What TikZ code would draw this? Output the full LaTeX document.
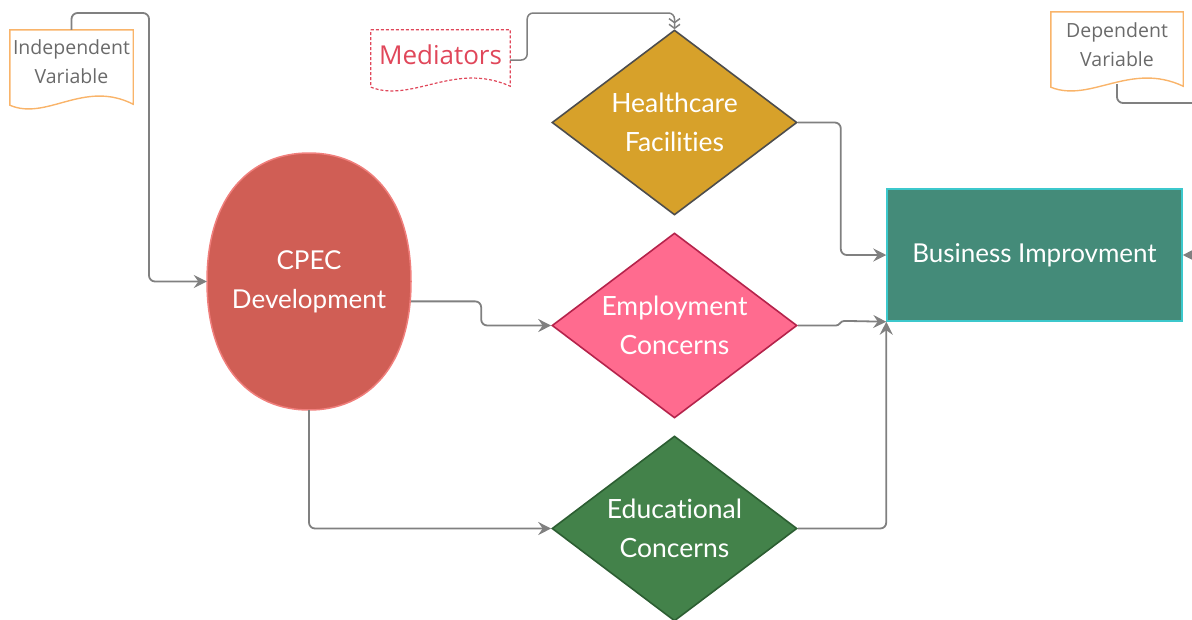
\documentclass[tikz,border=0pt]{standalone}
\usepackage{fontspec}
\setmainfont{Lato}[Ligatures=NoCommon]
\newfontfamily\notefont{Open Sans}
\usetikzlibrary{shapes.geometric,arrows.meta,calc}

\definecolor{connGray}{HTML}{808080}
\definecolor{noteOrange}{HTML}{F9B46A}
\definecolor{noteText}{HTML}{6A6A6A}
\definecolor{medRed}{HTML}{E0475A}
\definecolor{cpecFill}{HTML}{D05E55}
\definecolor{cpecLine}{HTML}{F07F7C}
\definecolor{hcFill}{HTML}{D7A12A}
\definecolor{hcLine}{HTML}{4D4D4D}
\definecolor{empFill}{HTML}{FF6B8F}
\definecolor{empLine}{HTML}{B5234B}
\definecolor{eduFill}{HTML}{43824A}
\definecolor{eduLine}{HTML}{2C5E32}
\definecolor{bizFill}{HTML}{448B79}
\definecolor{bizLine}{HTML}{3CC8CC}

% outline of a note with a wavy lower edge; #2 = drop of the wave below the node box
\newcommand\docoutline[2]{%
  (#1.north west) -- (#1.north east) -- ($(#1.south east)+(0,#2-1)$)
  .. controls ($(#1.south west)!0.6!(#1.south east)+(0,#2-26)$)
  and ($(#1.south west)!0.3!(#1.south east)+(0,#2+16)$) ..
  ($(#1.south west)+(0,#2)$) -- cycle}

\begin{document}
\begin{tikzpicture}[x=1pt,y=-1pt,
  conn/.style={draw=connGray,line width=1.8pt,rounded corners=6pt,
    -{Stealth[length=13pt,width=13pt,inset=4.5pt]}},
  notebox/.style={inner sep=0pt,align=center,text=noteText,
    font=\notefont\fontsize{19.5}{29}\selectfont},
  decision/.style={shape=diamond,aspect=1.32,inner sep=0pt,
    minimum width=245pt,minimum height=185pt,line width=1.6pt,
    align=center,text=white,font=\fontsize{26.5}{39}\selectfont},
  bigtext/.style={text=white,align=center,font=\fontsize{26}{39}\selectfont}]
\useasboundingbox (0,0) rectangle (1192,619);
\clip (0,0) rectangle (1192,619);

% notes
\node[notebox,minimum width=123pt,minimum height=63pt] (iv) at (71.5,61.5)
  {Independent\\Variable};
\draw[noteOrange,line width=1.4pt] \docoutline{iv}{12};

\node[notebox,minimum width=132pt,minimum height=66pt] (dv) at (1117,45)
  {Dependent\\Variable};
\draw[noteOrange,line width=1.4pt] \docoutline{dv}{9};

\node[inner sep=0pt,minimum width=139pt,minimum height=50pt,text=medRed,
  font=\notefont\fontsize{26}{30}\selectfont] (med) at (440.5,55) {Mediators};
\draw[medRed,line width=1.2pt,dash pattern=on 3pt off 2pt] \docoutline{med}{7};

% CPEC: a rounded oval, flatter at the sides than an ellipse
\coordinate (cc) at (309,281.5);
\filldraw[fill=cpecFill,draw=cpecLine,line width=1.5pt]
  ($(cc)+(102,0)$)
  .. controls ($(cc)+(102,-85)$) and ($(cc)+(59,-128.5)$) .. ($(cc)+(0,-128.5)$)
  .. controls ($(cc)+(-59,-128.5)$) and ($(cc)+(-102,-85)$) .. ($(cc)+(-102,0)$)
  .. controls ($(cc)+(-102,85)$) and ($(cc)+(-59,128.5)$) .. ($(cc)+(0,128.5)$)
  .. controls ($(cc)+(59,128.5)$) and ($(cc)+(102,85)$) .. cycle;
\node[rectangle,inner sep=0pt,minimum width=204pt,minimum height=257pt,
  bigtext] (cpec) at (cc) {CPEC\\Development};

% mediators and outcome
\node[decision,fill=hcFill,draw=hcLine] (hc) at (674.5,122.5) {Healthcare\\Facilities};
\node[decision,fill=empFill,draw=empLine] (emp) at (674.5,325.5) {Employment\\Concerns};
\node[decision,fill=eduFill,draw=eduLine] (edu) at (674.5,528.5) {Educational\\Concerns};

\node[rectangle,fill=bizFill,draw=bizLine,line width=1.5pt,inner sep=0pt,
  minimum width=295pt,minimum height=132pt,bigtext] (biz) at (1034.5,255)
  {Business Improvment};

% connectors
\draw[conn] (iv.north) |- (149,13) |- (cpec.west);
\draw[conn] (cpec.-11) -- ++(70,0) |- (emp.west);
\draw[conn] (cpec.south) |- (edu.west);
\draw[conn] (hc.east) -- ++(43,0) |- (biz.west);
\draw[conn] (emp.east) -- (830,325.5) .. controls (840,325.5) and (840,321) .. (850,321)
  -- (biz.south west);
\draw[conn] (edu.east) -| (biz.south west);
\draw[draw=connGray,line width=1.5pt,rounded corners=6pt,
  -{Straight Barb[length=4pt,width=11pt]Straight Barb[length=4pt,width=11pt]}]
  ($(med.east)+(0,5)$) -- ++(17,0) |- (hc.north |- 0,13) -- (hc.north);
\draw[conn] ($(dv.south)+(0,6)$) |- (1212,103) |- (biz.east);
\end{tikzpicture}
\end{document}
